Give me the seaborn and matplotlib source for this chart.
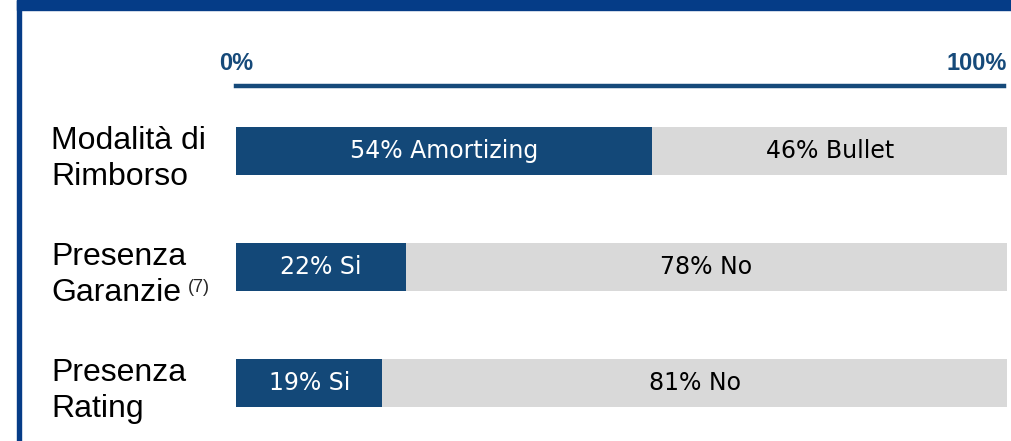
import matplotlib.pyplot as plt
import matplotlib.transforms as mtransforms
import seaborn as sns
import pandas as pd
from matplotlib.patches import Rectangle

# --- dati --- #
categorie = ['Modalità di\nRimborso', 'Presenza\nGaranzie', 'Presenza\nRating']
quota_prima = [54, 22, 19]
quota_seconda = [46, 78, 81]
etichette_prima = ['54% Amortizing', '22% Si', '19% Si']
etichette_seconda = ['46% Bullet', '78% No', '81% No']
tick_labels = ['0%', '100%']

blu_barra = '#134878'
grigio = '#d9d9d9'
blu_bordo = '#053c87'
blu_testo = '#164a7a'

sns.set_theme(style='white')
plt.rcParams['font.family'] = ['DejaVu Sans']

df = pd.DataFrame({'cat': categorie, 'prima': quota_prima, 'seconda': quota_seconda})
df['totale'] = df['prima'] + df['seconda']

fig = plt.figure(figsize=(10.11, 4.41), dpi=100)
W, H = 1011, 441

# cornice blu (bordo superiore e sinistro)
fig.patches.append(Rectangle((17 / W, 1 - 10 / H), 1 - 17 / W, 10 / H,
                             transform=fig.transFigure, color=blu_bordo, zorder=5))
fig.patches.append(Rectangle((17 / W, 0), 4 / W, 1, transform=fig.transFigure,
                             color=blu_bordo, zorder=5))

ax = fig.add_axes([236 / W, 0, 771 / W, (441 - 86) / H])

sns.barplot(data=df, y='cat', x='totale', color=grigio, orient='h',
            width=0.42, ax=ax, saturation=1, linewidth=0)
sns.barplot(data=df, y='cat', x='prima', color=blu_barra, orient='h',
            width=0.42, ax=ax, saturation=1, linewidth=0)

ax.set_xlim(0, 100)
ax.set_ylim(2.5, -0.56)

for i in range(len(categorie)):
    ax.text(quota_prima[i] / 2, i, etichette_prima[i], ha='center', va='center',
            color='white', fontsize=17)
    ax.text(quota_prima[i] + quota_seconda[i] / 2, i, etichette_seconda[i],
            ha='center', va='center', color='black', fontsize=17)

# etichette categorie a sinistra
trans = mtransforms.blended_transform_factory(fig.transFigure, ax.transData)
testi = []
for i, c in enumerate(categorie):
    t = ax.text(51 / W, i + 0.07, c, transform=trans, ha='left', va='center',
                fontsize=23, family='Liberation Sans', color='black',
                linespacing=1.28)
    testi.append(t)
ax.annotate('(7)', xy=(1, 0.32), xycoords=testi[1], xytext=(1, 0),
            textcoords='offset points', ha='left', va='center',
            fontsize=13, family='Liberation Sans')

# asse superiore 0% - 100%
for s in ['left', 'right', 'bottom']:
    ax.spines[s].set_visible(False)
ax.spines['top'].set_color(blu_testo)
ax.spines['top'].set_linewidth(3.2)
ax.spines['top'].set_bounds(0, 99.6)
ax.xaxis.tick_top()
ax.set_xticks([0, 100])
ax.set_xticklabels(tick_labels)
for lab in ax.get_xticklabels():
    lab.set_fontfamily('Liberation Sans')
    lab.set_fontweight('bold')
    lab.set_fontsize(17)
    lab.set_color(blu_testo)
ax.get_xticklabels()[1].set_ha('right')
ax.tick_params(axis='x', length=0, pad=8)
ax.set_yticks([])
ax.set_xlabel('')
ax.set_ylabel('')

fig.savefig('out.png', dpi=100)
